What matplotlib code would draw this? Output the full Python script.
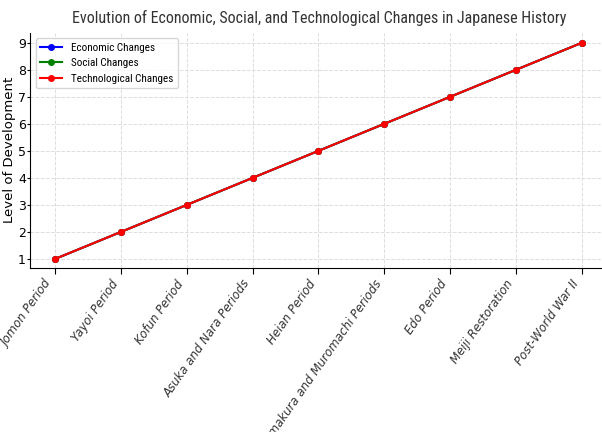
import matplotlib
matplotlib.use("Agg")
import matplotlib.pyplot as plt

periods = ["Jomon Period", "Yayoi Period", "Kofun Period", "Asuka and Nara Periods",
           "Heian Period", "Kamakura and Muromachi Periods", "Edo Period",
           "Meiji Restoration", "Post-World War II"]
economic = [1, 2, 3, 4, 5, 6, 7, 8, 9]
social = [1, 2, 3, 4, 5, 6, 7, 8, 9]
technological = [1, 2, 3, 4, 5, 6, 7, 8, 9]

cond = ["Roboto Condensed", "DejaVu Sans"]

fig = plt.figure(figsize=(6.02, 4.32), dpi=100)
ax = fig.add_axes([0.05, 0.38, 0.96, 0.544])
x = range(len(periods))
ax.plot(x, economic, color="blue", marker="o", markersize=4, linewidth=1.5, label="Economic Changes")
ax.plot(x, social, color="green", marker="o", markersize=4, linewidth=1.5, label="Social Changes")
ax.plot(x, technological, color="red", marker="o", markersize=4, linewidth=1.5, label="Technological Changes")

ax.set_xlim(-0.38, 8.4)
ax.set_ylim(0.67, 9.37)
ax.set_xticks(list(x))
ax.set_xticklabels(periods, rotation=55, ha="right", fontstyle="italic", fontsize=8.5,
                   color="#333333")
ax.set_yticks(range(1, 10))
ax.tick_params(axis="y", labelsize=9, length=2, pad=1)
ax.tick_params(axis="x", length=4, pad=3)
ax.set_ylabel("Level of Development", fontsize=9.5)
ax.yaxis.set_label_coords(-0.025, 0.5)
ax.set_title("Evolution of Economic, Social, and Technological Changes in Japanese History",
             fontsize=11.5, family=cond, fontweight="normal", color="#333333", pad=7)
ax.grid(True, linestyle="--", color="#dddddd", linewidth=0.7)
for s in ["top", "right"]:
    ax.spines[s].set_visible(False)
ax.legend(loc="upper left", prop={"family": cond, "size": 8})
fig.savefig("out.png", dpi=100)
